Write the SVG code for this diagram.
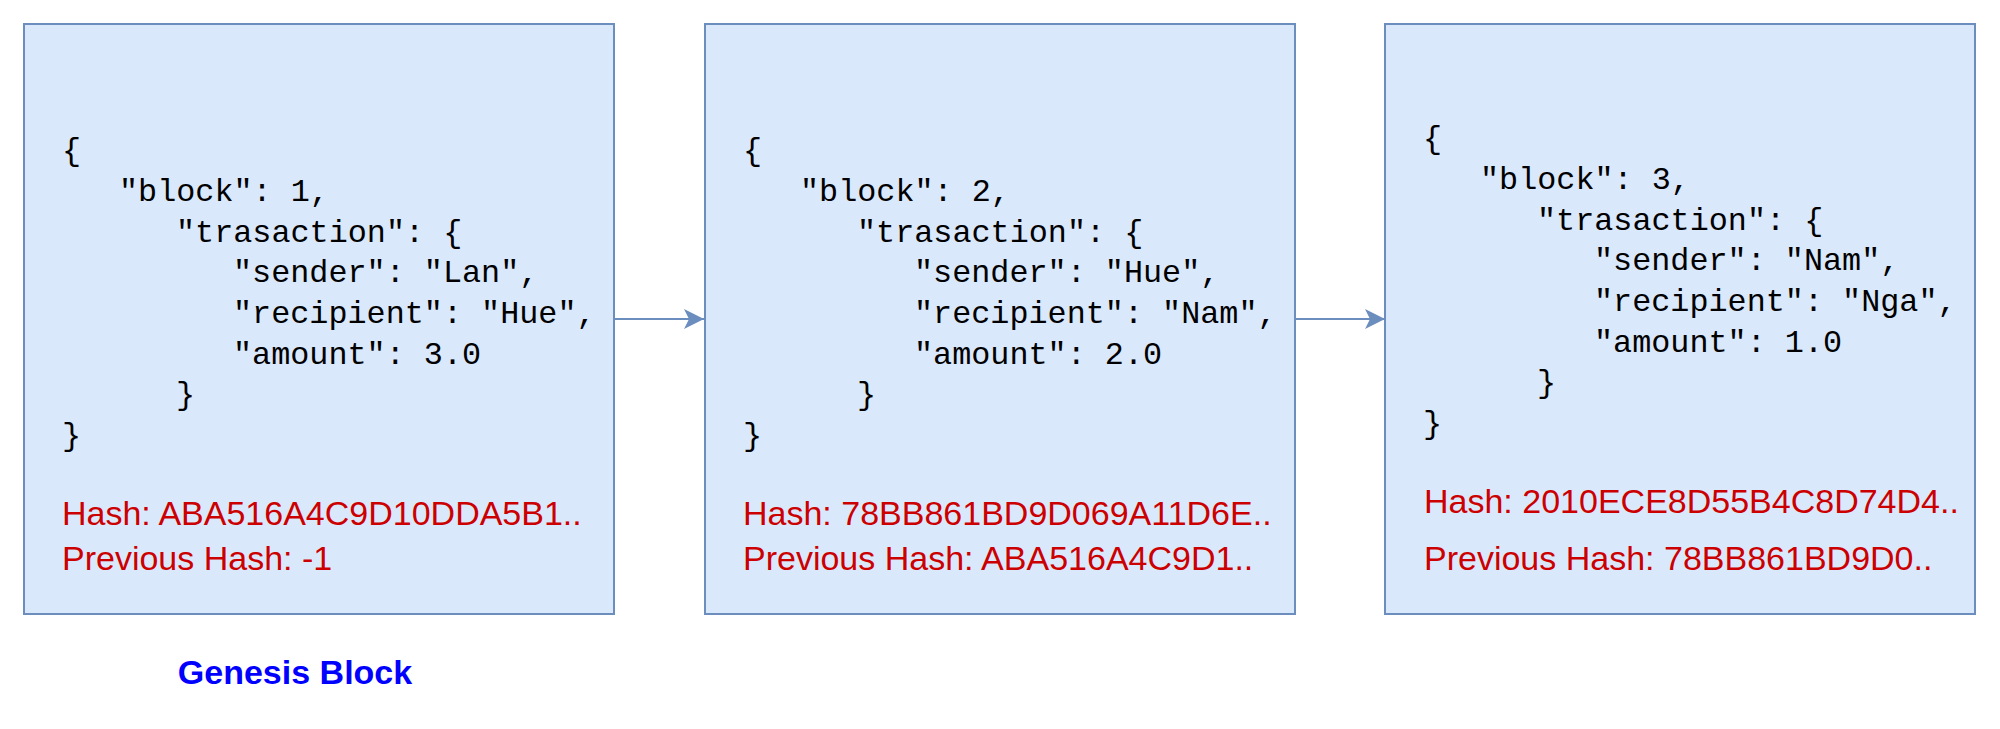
<svg xmlns="http://www.w3.org/2000/svg" width="2000" height="729" viewBox="0 0 2000 729">
<style>
.box{fill:#dae8fc;stroke:#6c8ebf;stroke-width:2}
.code{font-family:"Liberation Mono","Courier New",monospace;font-size:31.8px;fill:#000}
.hash{font-family:"Liberation Sans",Arial,sans-serif;font-size:34px;fill:#cc0000}
.edge{stroke:#6c8ebf;stroke-width:2;fill:none}
.title{font-family:"Liberation Sans",Arial,sans-serif;font-size:34px;font-weight:bold;fill:#0000ff}
</style>
<defs>
<marker id="arr" markerUnits="userSpaceOnUse" markerWidth="22" markerHeight="22" refX="20" refY="11" orient="auto">
<path d="M0,1 L20,11 L0,21 L5,11 Z" fill="#6c8ebf"/>
</marker>
</defs>
<g id="connectors">
<line class="edge" x1="614" y1="319" x2="704" y2="319" marker-end="url(#arr)"/>
<line class="edge" x1="1295" y1="319" x2="1385" y2="319" marker-end="url(#arr)"/>
</g>
<g id="block1">
<rect class="box" x="24" y="24" width="590" height="590"/>
<text class="code" x="62" y="160">{</text>
<text class="code" x="119" y="201">"block": 1,</text>
<text class="code" x="176" y="242">"trasaction": {</text>
<text class="code" x="233" y="282">"sender": "Lan",</text>
<text class="code" x="233" y="323">"recipient": "Hue",</text>
<text class="code" x="233" y="364">"amount": 3.0</text>
<text class="code" x="176" y="404">}</text>
<text class="code" x="62" y="445">}</text>
<text class="hash" x="62" y="525">Hash: ABA516A4C9D10DDA5B1..</text>
<text class="hash" x="62" y="570">Previous Hash: -1</text>
</g>
<g id="block2">
<rect class="box" x="705" y="24" width="590" height="590"/>
<text class="code" x="743" y="160">{</text>
<text class="code" x="800" y="201">"block": 2,</text>
<text class="code" x="857" y="242">"trasaction": {</text>
<text class="code" x="914" y="282">"sender": "Hue",</text>
<text class="code" x="914" y="323">"recipient": "Nam",</text>
<text class="code" x="914" y="364">"amount": 2.0</text>
<text class="code" x="857" y="404">}</text>
<text class="code" x="743" y="445">}</text>
<text class="hash" x="743" y="525">Hash: 78BB861BD9D069A11D6E..</text>
<text class="hash" x="743" y="570">Previous Hash: ABA516A4C9D1..</text>
</g>
<g id="block3">
<rect class="box" x="1385" y="24" width="590" height="590"/>
<text class="code" x="1423" y="148">{</text>
<text class="code" x="1480" y="189">"block": 3,</text>
<text class="code" x="1537" y="230">"trasaction": {</text>
<text class="code" x="1594" y="270">"sender": "Nam",</text>
<text class="code" x="1594" y="311">"recipient": "Nga",</text>
<text class="code" x="1594" y="352">"amount": 1.0</text>
<text class="code" x="1537" y="392">}</text>
<text class="code" x="1423" y="433">}</text>
<text class="hash" x="1424" y="513">Hash: 2010ECE8D55B4C8D74D4..</text>
<text class="hash" x="1424" y="570">Previous Hash: 78BB861BD9D0..</text>
</g>
<g id="genesis-label">
<text class="title" x="295" y="684" text-anchor="middle">Genesis Block</text>
</g>
</svg>
